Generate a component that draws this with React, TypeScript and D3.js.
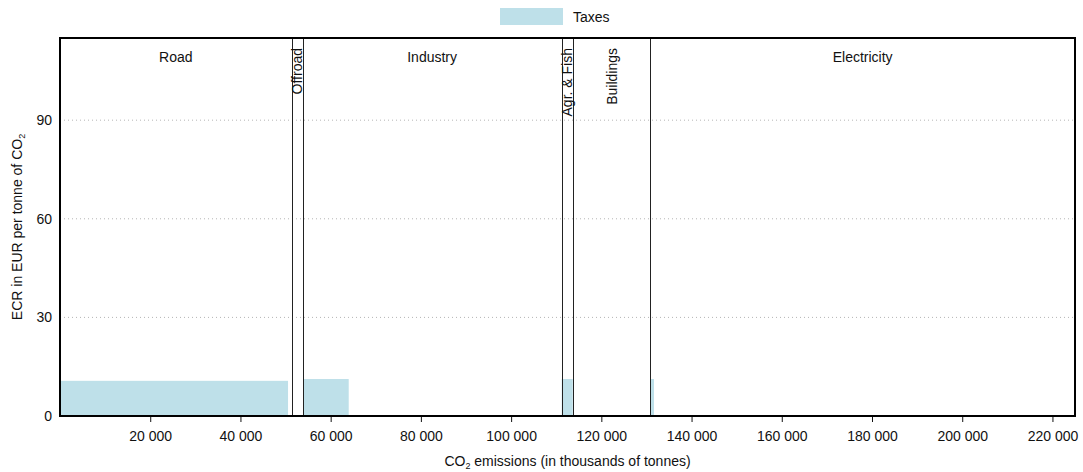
import React, { useEffect, useRef } from "react";
import * as d3 from "d3";

// sectors along the x axis (cumulative emissions, thousands of tonnes)
const sectorNames = ["Road", "Offroad", "Industry", "Agr. & Fish", "Buildings", "Electricity"];
const sectorStarts = [0, 51330, 53770, 111220, 113660, 130870];
const sectorEnds = [51330, 53770, 111220, 113660, 130870, 225000];
const sectorRotated = [false, true, false, true, true, false];

// taxed segments: start, end, rate (EUR per tonne CO2)
const barStarts = [0, 53950, 111220, 130900];
const barEnds = [50550, 64000, 113660, 131680];
const barValues = [10.7, 11.25, 11.25, 11.25];

const xTicks = [20000, 40000, 60000, 80000, 100000, 120000, 140000, 160000, 180000, 200000, 220000];
const yTicks = [0, 30, 60, 90];

const FONT = "'Liberation Sans', Arial, sans-serif";
const FS = "14px";
const TAX_COLOR = "#bee0e9";

export default function App() {
  const ref = useRef<SVGSVGElement>(null);

  useEffect(() => {
    const svg = d3.select(ref.current);
    svg.selectAll("*").remove();

    const width = 1083;
    const height = 472;
    const margin = { top: 38, right: 8, bottom: 56, left: 60 };
    const w = width - margin.left - margin.right;
    const h = height - margin.top - margin.bottom;

    const x = d3.scaleLinear().domain([0, 225000]).range([0, w]);
    const y = d3.scaleLinear().domain([0, 115]).range([h, 0]);

    const g = svg.append("g").attr("transform", `translate(${margin.left},${margin.top})`);

    // grid
    g.selectAll(".grid")
      .data(yTicks.filter(d => d > 0))
      .enter()
      .append("line")
      .attr("x1", 0)
      .attr("x2", w)
      .attr("y1", d => y(d))
      .attr("y2", d => y(d))
      .attr("stroke", "#b5b5b5")
      .attr("stroke-width", 1)
      .attr("stroke-dasharray", "1,3");

    // bars
    g.selectAll(".bar")
      .data(barValues)
      .enter()
      .append("rect")
      .attr("x", (d, i) => x(barStarts[i]))
      .attr("width", (d, i) => x(barEnds[i]) - x(barStarts[i]))
      .attr("y", d => y(d))
      .attr("height", d => h - y(d))
      .attr("fill", TAX_COLOR);

    // sector separators
    g.selectAll(".sep")
      .data(sectorStarts.slice(1))
      .enter()
      .append("line")
      .attr("x1", d => Math.round(x(d)) + 0.5)
      .attr("x2", d => Math.round(x(d)) + 0.5)
      .attr("y1", 0)
      .attr("y2", h)
      .attr("stroke", "#222")
      .attr("stroke-width", 1);

    // sector labels
    sectorNames.forEach((name, i) => {
      const cx = (x(sectorStarts[i]) + x(sectorEnds[i])) / 2;
      if (sectorRotated[i]) {
        g.append("text")
          .attr("transform", `translate(${cx + 5},10) rotate(-90)`)
          .attr("text-anchor", "end")
          .attr("font-family", FONT)
          .attr("font-size", FS)
          .attr("fill", "#111")
          .text(name);
      } else {
        g.append("text")
          .attr("x", cx)
          .attr("y", 24)
          .attr("text-anchor", "middle")
          .attr("font-family", FONT)
          .attr("font-size", FS)
          .attr("fill", "#111")
          .text(name);
      }
    });

    // x axis
    const xAxis = g.append("g")
      .attr("transform", `translate(0,${h})`)
      .call(
        d3.axisBottom(x)
          .tickValues(xTicks)
          .tickSize(6)
          .tickPadding(9)
          .tickFormat(d => d3.format(",")(d as number).replace(/,/g, " "))
      );
    xAxis.select(".domain").remove();
    xAxis.selectAll("text").attr("font-family", FONT).attr("font-size", FS).attr("fill", "#111");
    xAxis.selectAll("line").attr("stroke", "#111");

    // y axis
    const yAxis = g.append("g").call(d3.axisLeft(y).tickValues(yTicks).tickSize(0).tickPadding(8));
    yAxis.select(".domain").remove();
    yAxis.selectAll("text").attr("font-family", FONT).attr("font-size", FS).attr("fill", "#111");

    // frame
    g.append("rect")
      .attr("x", 0)
      .attr("y", 0)
      .attr("width", w)
      .attr("height", h)
      .attr("fill", "none")
      .attr("stroke", "#000")
      .attr("stroke-width", 2);

    // axis titles
    const xt = svg.append("text")
      .attr("x", margin.left + w / 2)
      .attr("y", 466)
      .attr("text-anchor", "middle")
      .attr("font-family", FONT)
      .attr("font-size", FS)
      .attr("fill", "#111");
    xt.append("tspan").text("CO");
    xt.append("tspan").attr("font-size", "9px").attr("dy", 3).text("2");
    xt.append("tspan").attr("dy", -3).text(" emissions (in thousands of tonnes)");

    const yt = svg.append("text")
      .attr("transform", `translate(22,${margin.top + h / 2}) rotate(-90)`)
      .attr("text-anchor", "middle")
      .attr("font-family", FONT)
      .attr("font-size", FS)
      .attr("fill", "#111");
    yt.append("tspan").text("ECR in EUR per tonne of CO");
    yt.append("tspan").attr("font-size", "9px").attr("dy", 3).text("2");

    // legend
    svg.append("rect")
      .attr("x", 500)
      .attr("y", 8)
      .attr("width", 63)
      .attr("height", 17)
      .attr("fill", TAX_COLOR);
    svg.append("text")
      .attr("x", 573)
      .attr("y", 22)
      .attr("font-family", FONT)
      .attr("font-size", FS)
      .attr("fill", "#111")
      .text("Taxes");
  }, []);

  return (
    <svg
      ref={ref}
      width={1083}
      height={472}
      style={{ position: "absolute", left: 0, top: 0, background: "#fff" }}
    />
  );
}
